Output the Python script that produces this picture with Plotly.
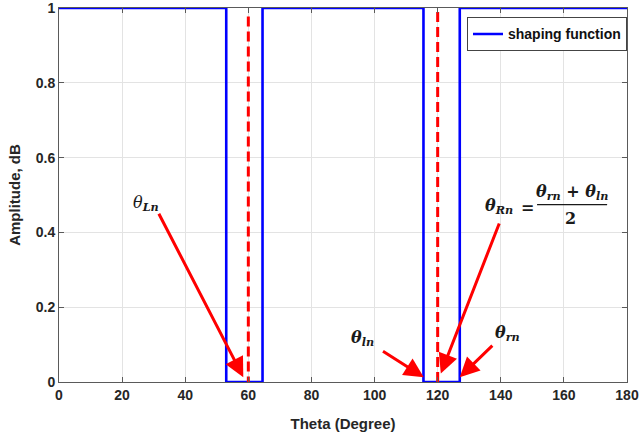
import plotly.graph_objects as go

# shaping function (step profile)
theta = [0, 53, 53, 64.5, 64.5, 115.5, 115.5, 127, 127, 180]
amplitude = [1, 1, 0, 0, 1, 1, 0, 0, 1, 1]

# red dashed reference lines
ref_x = [60, 120]
ref_y0 = [-0.012, 0.0]
ref_y1 = [0.99, 1.0]

x_ticks = [0, 20, 40, 60, 80, 100, 120, 140, 160, 180]
y_ticks = [0, 0.2, 0.4, 0.6, 0.8, 1]
y_tick_labels = ["0", "0.2", "0.4", "0.6", "0.8", "1"]

# arrows: (tip_x, tip_y, tail_x, tail_y)
arrows = [
    (58.4, 0.013, 31.4, 0.454),
    (121.0, 0.023, 139.7, 0.428),
    (115.6, 0.013, 102.2, 0.085),
    (127.0, 0.013, 137.8, 0.101),
]

SERIF = "DejaVu Serif"
SANS = "Liberation Sans"

fig = go.Figure()
fig.add_trace(go.Scatter(
    x=theta, y=amplitude, mode="lines", name="shaping function",
    line=dict(color="#0000ff", width=2.6), cliponaxis=False,
))
for xv, y0, y1 in zip(ref_x, ref_y0, ref_y1):
    fig.add_trace(go.Scatter(
        x=[xv, xv], y=[y0, y1], mode="lines", showlegend=False,
        line=dict(color="#ff0000", width=3, dash="10px,5px"), cliponaxis=False,
    ))

annotations = []
for tx, ty, ax, ay in arrows:
    annotations.append(dict(
        x=tx, y=ty, ax=ax, ay=ay, xref="x", yref="y", axref="x", ayref="y",
        text="", showarrow=True, arrowhead=2, arrowsize=1.3, arrowwidth=3,
        arrowcolor="#ff0000",
    ))

def label(x, y, text, size=16):
    annotations.append(dict(
        x=x, y=y, xref="x", yref="y", text=text, showarrow=False,
        font=dict(family=SERIF, size=size, color="#1a1a1a"),
        xanchor="center", yanchor="middle",
    ))

label(27.6, 0.478, "<i>θ</i><b><i><sub>Ln</sub></i></b>")
label(96.2, 0.117, "<b><i>θ<sub>ln</sub></i></b>")
label(142.2, 0.130, "<b><i>θ<sub>rn</sub></i></b>")
label(139.3, 0.470, "<b><i>θ<sub>Rn</sub></i></b>")
label(148.5, 0.466, "<b>=</b>")
label(162.5, 0.507, "<b><i>θ<sub>rn</sub></i> + <i>θ<sub>ln</sub></i></b>")
label(162.2, 0.438, "<b>2</b>")

shapes = [dict(type="line", xref="x", yref="y", x0=151.5, x1=173.7,
               y0=0.474, y1=0.474, line=dict(color="#1a1a1a", width=1.2))]

axis_common = dict(
    showgrid=True, gridcolor="#e3e3e3", gridwidth=1,
    showline=True, linecolor="#5a5a5a", linewidth=1, mirror="ticks",
    ticks="inside", ticklen=5, tickcolor="#5a5a5a", zeroline=False,
    automargin=False, ticklabeloverflow="allow",
    tickfont=dict(family=SANS, size=14, color="#262626", weight="bold"),
)

fig.update_layout(
    width=639, height=438,
    margin=dict(l=59, r=12, t=8, b=56),
    plot_bgcolor="white", paper_bgcolor="white",
    xaxis=dict(range=[0, 180], tickvals=x_ticks,
               title=dict(text="Theta (Degree)", standoff=16,
                          font=dict(family=SANS, size=15, color="#262626", weight="bold")),
               **axis_common),
    yaxis=dict(range=[0, 1], tickvals=y_ticks, ticktext=y_tick_labels,
               title=dict(text="Amplitude, dB", standoff=11,
                          font=dict(family=SANS, size=15, color="#262626", weight="bold")),
               **axis_common),
    legend=dict(x=1, y=0.975, xanchor="right", yanchor="top",
                bgcolor="white", bordercolor="#444444", borderwidth=1,
                font=dict(family=SANS, size=14, color="#111111", weight="bold"),
                tracegroupgap=0, itemwidth=30),
    annotations=annotations, shapes=shapes,
    showlegend=True,
)

fig.write_html("out.html", config={"displayModeBar": False},
               post_script="document.body.style.margin='0';document.body.style.padding='0';")
